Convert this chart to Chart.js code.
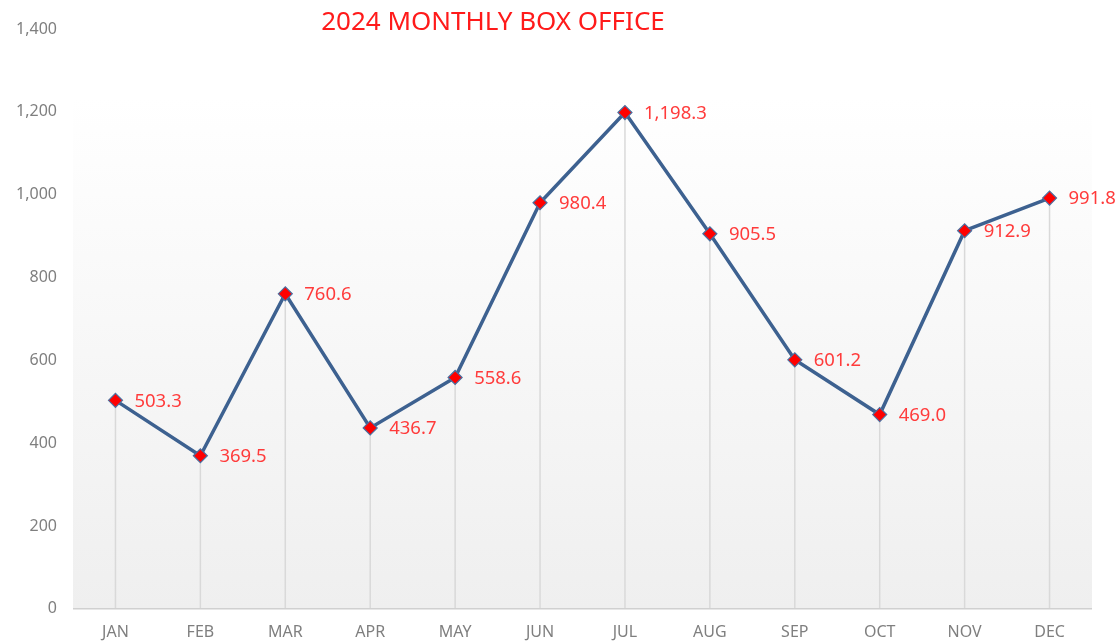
<!DOCTYPE html>
<html>
<head>
<meta charset="utf-8">
<script src="https://cdn.jsdelivr.net/npm/chart.js@4"></script>
<style>
html,body{margin:0;padding:0;background:#fff;}
#wrap{width:1116px;height:643px;position:relative;}
</style>
</head>
<body>
<div id="wrap"><canvas id="c"></canvas></div>
<script>
const categories = ["JAN","FEB","MAR","APR","MAY","JUN","JUL","AUG","SEP","OCT","NOV","DEC"];
const boxOffice = [503.3,369.5,760.6,436.7,558.6,980.4,1198.3,905.5,601.2,469.0,912.9,991.8];
const titleText = "2024 MONTHLY BOX OFFICE";
const yMin = 0, yMax = 1400, yStep = 200;

const fmtLabel = v => v.toLocaleString('en-US',{minimumFractionDigits:1,maximumFractionDigits:1});

const decorPlugin = {
  id:'decor',
  beforeDatasetsDraw(chart){
    const {ctx, chartArea:a, scales:{x,y}} = chart;
    ctx.save();
    const top = y.getPixelForValue(1235);
    const g = ctx.createLinearGradient(0, top, 0, a.bottom);
    g.addColorStop(0,'#ffffff');
    g.addColorStop(1,'#efefef');
    ctx.fillStyle = g;
    ctx.fillRect(a.left, top, a.right-a.left, a.bottom-top);
    ctx.strokeStyle = '#d9d9d9';
    ctx.lineWidth = 1.5;
    const meta = chart.getDatasetMeta(0);
    meta.data.forEach(pt=>{
      ctx.beginPath();
      ctx.moveTo(pt.x, pt.y);
      ctx.lineTo(pt.x, a.bottom);
      ctx.stroke();
    });
    ctx.strokeStyle = '#d0d0d0';
    ctx.lineWidth = 1.5;
    ctx.beginPath();
    ctx.moveTo(a.left, a.bottom);
    ctx.lineTo(a.right, a.bottom);
    ctx.stroke();
    ctx.restore();
  },
  afterDatasetsDraw(chart){
    const {ctx} = chart;
    ctx.save();
    ctx.fillStyle = '#ff3b3b';
    ctx.font = '18.5px "Noto Sans", sans-serif';
    ctx.textAlign = 'left';
    ctx.textBaseline = 'middle';
    const meta = chart.getDatasetMeta(0);
    meta.data.forEach((pt,i)=>{
      ctx.fillText(fmtLabel(boxOffice[i]), pt.x + 19, pt.y + 1);
    });
    ctx.fillStyle = '#ff1a1a';
    ctx.font = '26px "Noto Sans", sans-serif';
    ctx.textAlign = 'center';
    ctx.fillText(titleText, 493, 23);
    ctx.restore();
  }
};

new Chart(document.getElementById('c'), {
  type:'line',
  data:{
    labels: categories,
    datasets:[{
      data: boxOffice,
      borderColor:'#3d6190',
      borderWidth:3.5,
      pointStyle:'rectRot',
      pointRadius:7,
      pointHoverRadius:7,
      pointBackgroundColor:'#ff0000',
      pointBorderColor:'#4a6fa0',
      pointBorderWidth:1.2,
      tension:0,
      clip:false
    }]
  },
  options:{
    responsive:true,
    maintainAspectRatio:false,
    animation:false,
    layout:{padding:{left:10,right:24,top:29,bottom:-13}},
    plugins:{legend:{display:false},tooltip:{enabled:false},title:{display:false}},
    scales:{
      x:{
        offset:true,
        grid:{display:false,drawTicks:false},
        border:{display:false},
        ticks:{color:'#7f7f7f',font:{family:'"Noto Sans", sans-serif',size:16},padding:14}
      },
      y:{
        min:yMin,max:yMax,
        afterFit:s=>{s.width=63;},
        grid:{display:false,drawTicks:false},
        border:{display:false},
        ticks:{stepSize:yStep,color:'#7f7f7f',font:{family:'"Noto Sans", sans-serif',size:16},padding:16,
          callback:v=>v.toLocaleString('en-US')}
      }
    }
  },
  plugins:[decorPlugin]
});
</script>
</body>
</html>
